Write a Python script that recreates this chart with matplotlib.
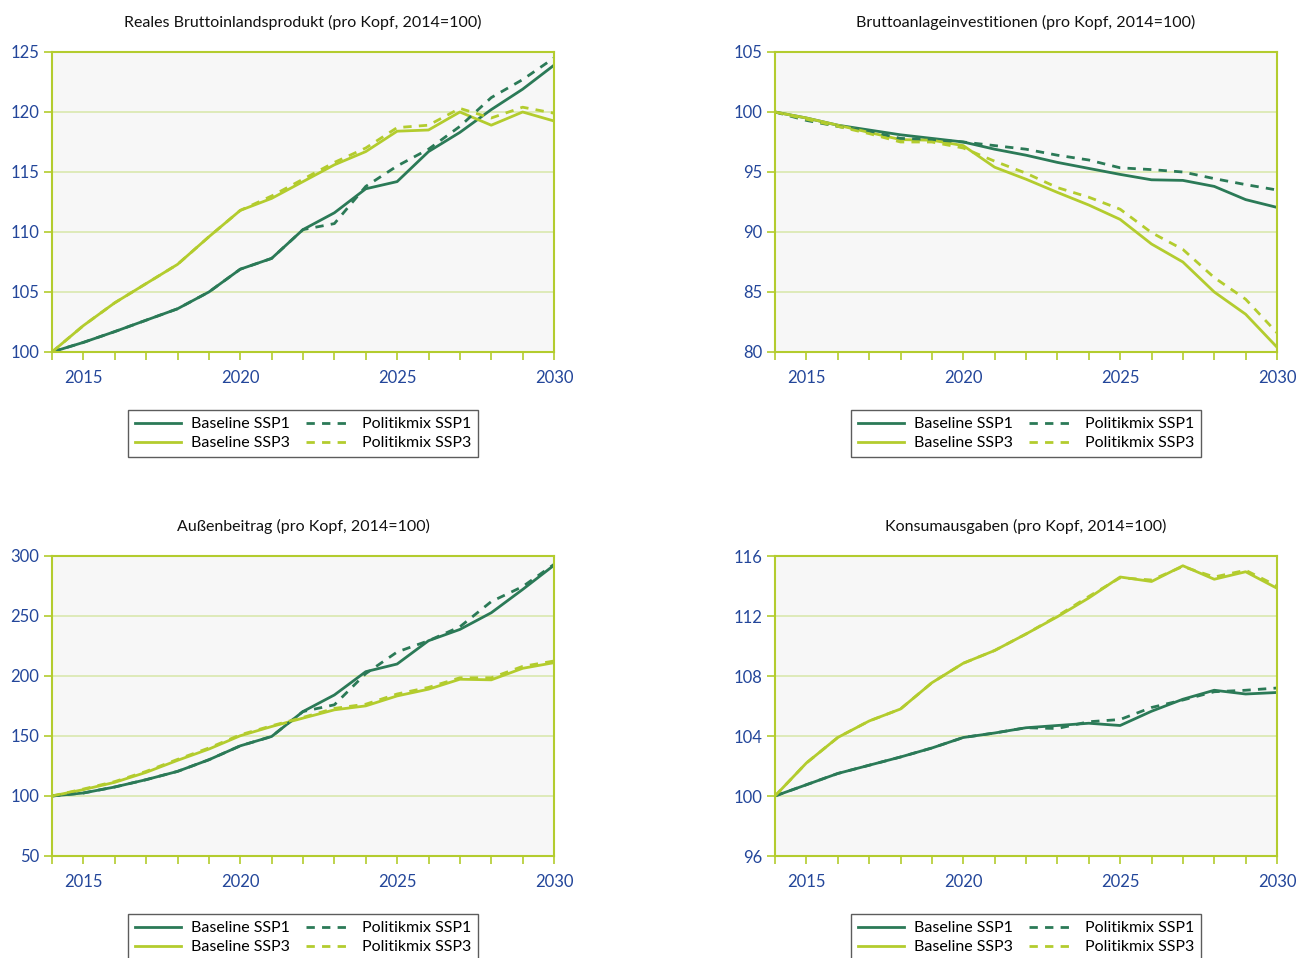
import matplotlib
matplotlib.use("Agg")
import matplotlib.pyplot as plt
from matplotlib.ticker import MultipleLocator

plt.rcParams['font.family'] = ['Lato', 'DejaVu Sans']

years = list(range(2014, 2031))

# Reales Bruttoinlandsprodukt
bip_base_ssp1 = [100, 100.8, 101.7, 102.65, 103.6, 105.0, 106.9, 107.8, 110.2, 111.6, 113.6, 114.2, 116.7, 118.3, 120.2, 121.9, 123.9]
bip_pol_ssp1 = [100, 100.8, 101.7, 102.65, 103.6, 105.0, 106.9, 107.8, 110.2, 110.7, 113.8, 115.5, 116.9, 118.8, 121.2, 122.7, 124.5]
bip_base_ssp3 = [100, 102.2, 104.1, 105.7, 107.3, 109.6, 111.8, 112.8, 114.2, 115.6, 116.7, 118.4, 118.5, 120.0, 118.9, 120.0, 119.25]
bip_pol_ssp3 = [100, 102.2, 104.1, 105.7, 107.3, 109.6, 111.8, 113.0, 114.4, 115.8, 117.0, 118.7, 118.9, 120.3, 119.5, 120.4, 119.9]

# Bruttoanlageinvestitionen
inv_base_ssp1 = [100, 99.5, 98.9, 98.5, 98.1, 97.8, 97.5, 96.9, 96.4, 95.8, 95.3, 94.8, 94.35, 94.3, 93.8, 92.7, 92.05]
inv_pol_ssp1 = [100, 99.3, 98.8, 98.4, 97.8, 97.7, 97.5, 97.2, 96.9, 96.4, 96.0, 95.35, 95.2, 95.0, 94.45, 93.95, 93.5]
inv_base_ssp3 = [100, 99.5, 98.9, 98.3, 97.7, 97.65, 97.2, 95.4, 94.4, 93.3, 92.25, 91.05, 89.0, 87.5, 85.0, 83.15, 80.4]
inv_pol_ssp3 = [100, 99.4, 98.8, 98.2, 97.5, 97.5, 97.0, 95.9, 94.9, 93.7, 92.9, 91.9, 89.95, 88.55, 86.2, 84.4, 81.6]

# Außenbeitrag
ab_base_ssp1 = [100, 102.5, 107.5, 113.6, 120.5, 130.2, 141.8, 149.6, 170.4, 184.2, 203.6, 210.0, 229.4, 238.8, 252.7, 272.1, 292.3]
ab_pol_ssp1 = [100, 102.5, 107.5, 113.6, 120.5, 130.2, 141.8, 149.6, 170.4, 176.0, 202.0, 220.0, 229.4, 241.0, 262.0, 274.5, 293.0]
ab_base_ssp3 = [100, 105.3, 111.4, 119.7, 129.7, 139.1, 150.2, 157.9, 164.9, 171.8, 175.1, 183.4, 189.0, 197.3, 196.8, 206.4, 211.1]
ab_pol_ssp3 = [100, 105.8, 112.0, 120.5, 130.5, 140.0, 151.0, 158.5, 165.5, 173.0, 176.5, 185.0, 190.5, 198.5, 198.5, 208.0, 212.5]

# Konsumausgaben
ka_base_ssp1 = [100, 100.75, 101.5, 102.05, 102.6, 103.2, 103.9, 104.2, 104.55, 104.7, 104.85, 104.7, 105.65, 106.45, 107.05, 106.8, 106.9]
ka_pol_ssp1 = [100, 100.75, 101.5, 102.05, 102.6, 103.2, 103.9, 104.2, 104.55, 104.5, 104.95, 105.1, 105.9, 106.4, 106.95, 107.05, 107.2]
ka_base_ssp3 = [100, 102.2, 103.9, 105.0, 105.8, 107.55, 108.85, 109.7, 110.8, 111.95, 113.2, 114.6, 114.3, 115.35, 114.45, 114.95, 113.85]
ka_pol_ssp3 = [100, 102.2, 103.9, 105.0, 105.8, 107.55, 108.85, 109.7, 110.8, 112.0, 113.3, 114.55, 114.4, 115.3, 114.6, 115.05, 114.0]

titles = ["Reales Bruttoinlandsprodukt (pro Kopf, 2014=100)",
          "Bruttoanlageinvestitionen (pro Kopf, 2014=100)",
          "Außenbeitrag (pro Kopf, 2014=100)",
          "Konsumausgaben (pro Kopf, 2014=100)"]
series = [
    (bip_base_ssp1, bip_base_ssp3, bip_pol_ssp1, bip_pol_ssp3),
    (inv_base_ssp1, inv_base_ssp3, inv_pol_ssp1, inv_pol_ssp3),
    (ab_base_ssp1, ab_base_ssp3, ab_pol_ssp1, ab_pol_ssp3),
    (ka_base_ssp1, ka_base_ssp3, ka_pol_ssp1, ka_pol_ssp3),
]
ylims = [(100, 125, 5), (80, 105, 5), (50, 300, 50), (96, 116, 4)]
labels = ["Baseline SSP1", "Baseline SSP3", "Politikmix SSP1", "Politikmix SSP3"]

DARK = "#2b7a57"
LIGHT = "#b3cc2e"
SPINE = "#b3cc2e"
GRID = "#d9e8ae"
TICKTXT = "#23469a"

W, H = 1299, 958
fig = plt.figure(figsize=(W / 100, H / 100), dpi=100)

boxes = [(52, 52), (775, 52), (52, 556), (775, 556)]
for i, (x0, y0) in enumerate(boxes):
    ax = fig.add_axes([x0 / W, 1 - (y0 + 300) / H, 502 / W, 300 / H])
    ax.set_facecolor("#f7f7f7")
    b1, b3, p1, p3 = series[i]
    lw = 2.0
    h1, = ax.plot(years, b1, color=DARK, lw=lw, solid_joinstyle='round')
    h2, = ax.plot(years, b3, color=LIGHT, lw=lw, solid_joinstyle='round')
    h3, = ax.plot(years, p1, color=DARK, lw=lw, dashes=(3, 2.6))
    h4, = ax.plot(years, p3, color=LIGHT, lw=lw, dashes=(3, 2.6))
    lo, hi, step = ylims[i]
    ax.set_ylim(lo, hi)
    ax.set_xlim(2014, 2030)
    ax.yaxis.set_major_locator(MultipleLocator(step))
    ax.set_xticks([2015, 2020, 2025, 2030])
    ax.xaxis.set_minor_locator(MultipleLocator(1))
    ax.grid(axis='y', color=GRID, lw=1.2)
    ax.set_axisbelow(True)
    for s in ax.spines.values():
        s.set_color(SPINE)
        s.set_linewidth(1.5)
    ax.tick_params(axis='both', which='both', color=SPINE, width=1.2)
    ax.tick_params(axis='x', which='both', direction='out', length=6, labelsize=12,
                   labelcolor=TICKTXT, pad=7)
    ax.tick_params(axis='y', which='major', direction='out', length=6, labelsize=12,
                   labelcolor=TICKTXT, pad=3)
    ax.set_title(titles[i], fontsize=11.5, pad=18, color="#111111")
    leg = ax.legend([h1, h2, h3, h4], labels, ncol=2, loc='upper center',
                    bbox_to_anchor=(0.5, -0.193), borderaxespad=0,
                    fontsize=11.5, frameon=True,
                    fancybox=False, edgecolor="#333333", handlelength=2.9,
                    columnspacing=1.0, handletextpad=0.6, labelspacing=0.3,
                    borderpad=0.45)
    leg.get_frame().set_linewidth(1.0)

fig.savefig("out.png", dpi=100)
